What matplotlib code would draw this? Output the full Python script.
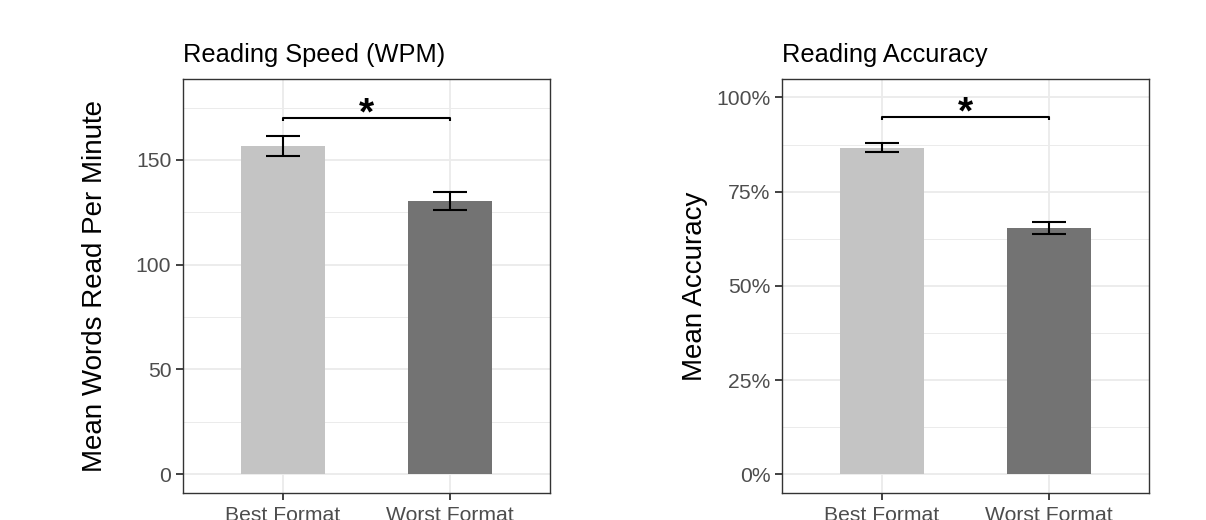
import matplotlib
matplotlib.use("Agg")
import matplotlib.pyplot as plt
from matplotlib.ticker import FixedLocator, PercentFormatter

plt.rcParams['font.family'] = ['Liberation Sans', 'DejaVu Sans']

# data
formats = ['Best Format', 'Worst Format']
wpm_mean = [156.5, 130.2]
wpm_se = [4.8, 4.3]
acc_mean = [0.867, 0.654]
acc_se = [0.013, 0.016]
bar_colors = ['#C4C4C4', '#737373']

W, H = 1206, 520
fig = plt.figure(figsize=(W / 100, H / 100), dpi=100)

def px_axes(x0, x1, y0, y1):
    return fig.add_axes([x0 / W, 1 - y1 / H, (x1 - x0) / W, (y1 - y0) / H])

ax1 = px_axes(182.7, 550, 79.3, 492.7)
ax2 = px_axes(781.7, 1149.3, 79.3, 492.7)

panels = [
    (ax1, wpm_mean, wpm_se, (-8.8, 188.5), [0, 50, 100, 150], [25, 75, 125, 175],
     169.9, 'Reading Speed (WPM)', 'Mean Words Read Per Minute', 101.7),
    (ax2, acc_mean, acc_se, (-0.0488, 1.048), [0, 0.25, 0.5, 0.75, 1.0],
     [0.125, 0.375, 0.625, 0.875], 0.947, 'Reading Accuracy', 'Mean Accuracy', 701.7),
]

for ax, means, ses, ylim, major, minor, brk, title, ylab, ylab_x in panels:
    xs = [1, 2]
    ax.bar(xs, means, width=0.5, color=bar_colors, zorder=2)
    ax.errorbar(xs, means, yerr=ses, fmt='none', ecolor='black', elinewidth=1.5,
                capsize=12, capthick=1.5, zorder=3)
    ax.set_xlim(0.4, 2.6)
    ax.set_ylim(*ylim)
    ax.set_xticks(xs)
    ax.set_xticklabels(formats)
    ax.yaxis.set_major_locator(FixedLocator(major))
    ax.yaxis.set_minor_locator(FixedLocator(minor))
    ax.grid(which='major', color='#EBEBEB', lw=1.3, zorder=0)
    ax.grid(which='minor', axis='y', color='#EBEBEB', lw=0.7, zorder=0)
    ax.set_axisbelow(True)
    ax.tick_params(axis='both', which='major', length=4.8, width=1.3, color='#333333',
                   labelsize=15.2, labelcolor='#4D4D4D')
    ax.tick_params(axis='x', pad=5.0)
    ax.tick_params(axis='y', pad=3.4)
    ax.tick_params(axis='y', which='minor', length=0)
    for sp in ax.spines.values():
        sp.set_color('#333333')
        sp.set_linewidth(1.0)

    # significance bracket
    span = ylim[1] - ylim[0]
    drop = span * 0.006
    ax.plot([1, 1, 2, 2], [brk - drop, brk, brk, brk - drop], color='black', lw=1.5,
            solid_capstyle='butt', zorder=4)
    ax.annotate('*', xy=(1.5, brk), xytext=(0, -4.2), textcoords='offset points',
                ha='center', va='baseline', fontsize=28, fontweight='bold', zorder=4)

    x0 = ax.get_position().x0
    fig.text(x0, 1 - 62 / H, title, ha='left', va='baseline', fontsize=18.3, color='black')
    fig.text(ylab_x / W, 0.5 * (1 - 79.3 / H + 1 - 492.7 / H), ylab, rotation=90,
             rotation_mode='anchor', ha='center', va='baseline', fontsize=20)

ax2.yaxis.set_major_formatter(PercentFormatter(1.0, decimals=0))

fig.savefig('out.png', dpi=100)
